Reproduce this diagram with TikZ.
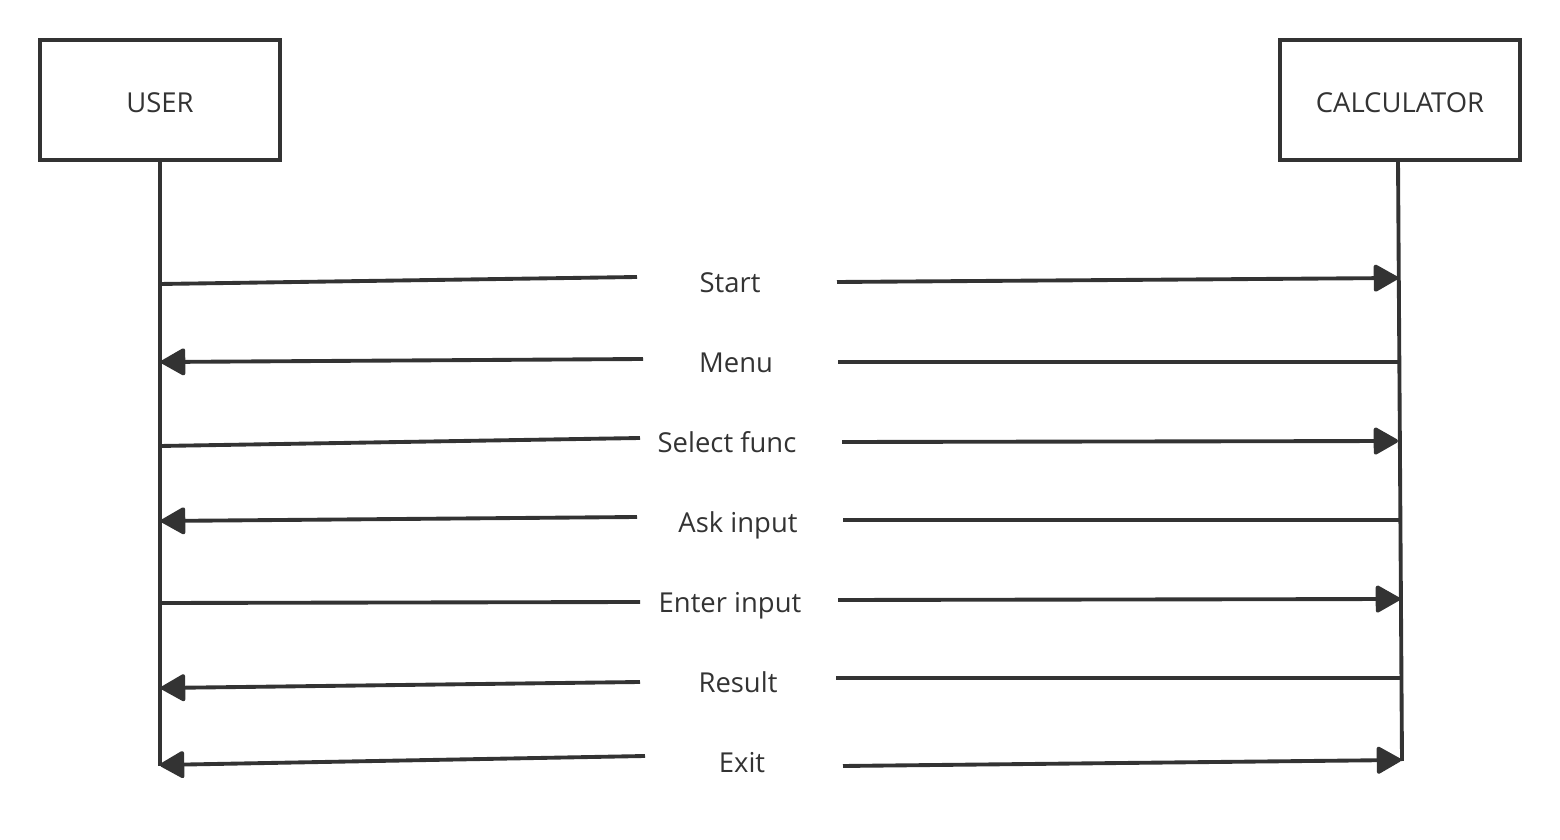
\documentclass[tikz,border=0pt]{standalone}
\usepackage{fontspec}
\setmainfont{Open Sans}
\usetikzlibrary{arrows.meta}
\definecolor{inkgray}{HTML}{333333}
\tikzset{
	lifebox/.style={draw=inkgray, line width=1.2pt, minimum width=2.4cm, minimum height=1.2cm, inner sep=0pt, text=inkgray, text height=0.72em, text depth=0pt},
	msgline/.style={draw=inkgray, line width=1.1pt},
	msgarrow/.style={msgline, -{Triangle[length=7.5pt, width=8.2pt, round]}},
	msglabel/.style={text=inkgray, inner sep=0pt, text height=0.72em, text depth=0pt},
}
\begin{document}
\begin{tikzpicture}[x=0.01cm, y=-0.01cm, font=\fontsize{7.8}{9}\selectfont]
		%%%%% START %%%%%
		\useasboundingbox (0, 0) rectangle (1560, 840);
		
		\node[lifebox] (user) at (160, 100) {USER};
		\node[lifebox] (calc) at (1400, 100) {CALCULATOR};
		
		\coordinate (userend) at (160, 766);
		\coordinate (calctop) at (1398, 160);
		\coordinate (calcend) at (1402, 761);
		\draw[msgline] (user.south) -- (userend);
		\draw[msgline] (calctop) -- (calcend);
		
		% Start
		\node[msglabel] (start) at (730, 280) {Start};
		\coordinate (s1) at (160, 284); \coordinate (s2) at (637, 277);
		\coordinate (s3) at (837, 282); \coordinate (s4) at (1398, 278);
		\draw[msgline] (s1) -- (s2);
		\draw[msgarrow] (s3) -- (s4);
		
		% Menu
		\node[msglabel] (menu) at (736, 360) {Menu};
		\coordinate (m1) at (1398, 362); \coordinate (m2) at (838, 362);
		\coordinate (m3) at (643, 359); \coordinate (m4) at (161, 362);
		\draw[msgline] (m1) -- (m2);
		\draw[msgarrow] (m3) -- (m4);
		
		% Select func
		\node[msglabel] (select) at (727, 440) {Select func};
		\coordinate (f1) at (160, 446); \coordinate (f2) at (640, 438);
		\coordinate (f3) at (842, 442); \coordinate (f4) at (1398, 441);
		\draw[msgline] (f1) -- (f2);
		\draw[msgarrow] (f3) -- (f4);
		
		% Ask input
		\node[msglabel] (ask) at (738, 520) {Ask input};
		\coordinate (a1) at (1399, 520); \coordinate (a2) at (843, 520);
		\coordinate (a3) at (637, 517); \coordinate (a4) at (161, 521);
		\draw[msgline] (a1) -- (a2);
		\draw[msgarrow] (a3) -- (a4);
		
		% Enter input
		\node[msglabel] (enter) at (730, 600) {Enter input};
		\coordinate (e1) at (160, 603); \coordinate (e2) at (640, 602);
		\coordinate (e3) at (838, 600); \coordinate (e4) at (1400, 599);
		\draw[msgline] (e1) -- (e2);
		\draw[msgarrow] (e3) -- (e4);
		
		% Result
		\node[msglabel] (result) at (738, 680) {Result};
		\coordinate (r1) at (1400, 678); \coordinate (r2) at (836, 678);
		\coordinate (r3) at (640, 682); \coordinate (r4) at (161, 688);
		\draw[msgline] (r1) -- (r2);
		\draw[msgarrow] (r3) -- (r4);
		
		% Exit
		\node[msglabel] (exit) at (742, 760) {Exit};
		\coordinate (x1) at (645, 756); \coordinate (x2) at (160, 765);
		\coordinate (x3) at (843, 766); \coordinate (x4) at (1401, 760);
		\draw[msgarrow] (x1) -- (x2);
		\draw[msgarrow] (x3) -- (x4);
		
		%%%%% END %%%%%
	\end{tikzpicture}
\end{document}
